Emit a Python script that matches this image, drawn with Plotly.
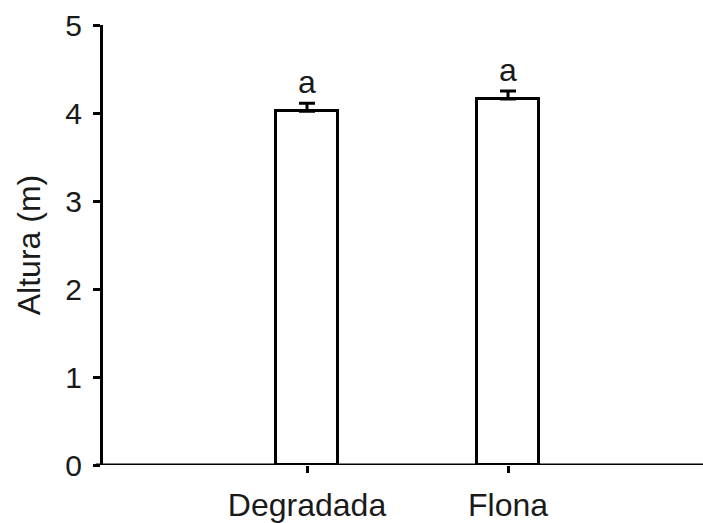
import plotly.graph_objects as go

categories = ["Degradada", "Flona"]
values = [4.02, 4.16]
errors = [0.09, 0.09]
letters = ["a", "a"]
y_ticks = [0, 1, 2, 3, 4, 5]

xpos = list(range(len(categories)))
FONT = "Liberation Sans, Arial, sans-serif"

fig = go.Figure()
fig.add_trace(go.Bar(
    x=xpos, y=values, width=0.31,
    marker=dict(color="white", line=dict(color="black", width=3)),
    error_y=dict(type="data", array=errors, arrayminus=[0] * len(errors), symmetric=False,
                 color="black", thickness=3, width=8),
    showlegend=False,
))

for x, v, e, t in zip(xpos, values, errors, letters):
    fig.add_annotation(x=x, y=v + e, text=t, showarrow=False, yanchor="bottom", yshift=1,
                       font=dict(family=FONT, size=32, color="#1a1a1a"))

# x axis line extending slightly left of the y axis
fig.add_shape(type="line", xref="paper", yref="y", x0=-0.012, x1=1, y0=0, y1=0,
              line=dict(color="black", width=3), layer="above")

fig.update_layout(
    width=703, height=523,
    margin=dict(l=103, r=0, t=25, b=58, autoexpand=False),
    plot_bgcolor="white", paper_bgcolor="white",
    font=dict(family=FONT, size=30, color="#1a1a1a"),
    bargap=0,
)
fig.update_xaxes(
    range=[-1.015, 1.97], tickmode="array", tickvals=xpos, ticktext=categories,
    showgrid=False, zeroline=False, showline=False,
    ticks="outside", ticklen=7, tickwidth=3, tickcolor="black",
    tickfont=dict(size=32), ticklabelstandoff=5,
)
fig.update_yaxes(
    range=[0, 5], tickmode="array", tickvals=y_ticks,
    showgrid=False, zeroline=False, showline=True, linecolor="black", linewidth=3,
    ticks="outside", ticklen=7, tickwidth=3, tickcolor="black",
    tickfont=dict(size=30), ticklabelstandoff=5,
    title=dict(text="Altura (m)", font=dict(size=32), standoff=16),
)

fig.write_html("out.html", config={"displayModeBar": False},
               post_script="document.body.style.margin='0';document.body.style.overflow='hidden';")
